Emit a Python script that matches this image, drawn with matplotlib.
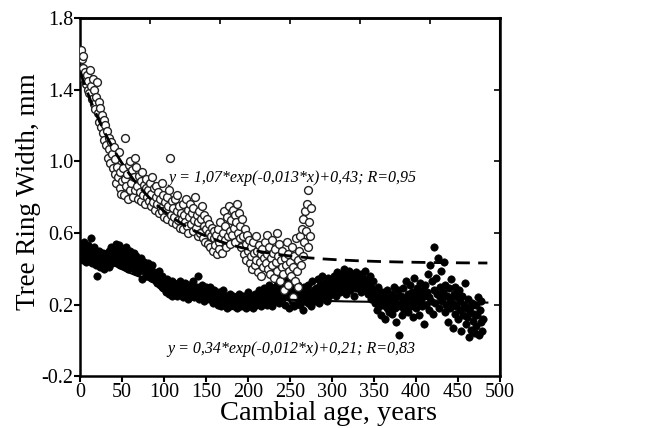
import numpy as np
import matplotlib.pyplot as plt

plt.rcParams['font.family'] = ['Liberation Serif', 'DejaVu Serif']

# open circles: ring width by cambial age (years 1..275)
open_w = [
    1.62, 1.57, 1.52, 1.59, 1.46, 1.50, 1.43, 1.48, 1.40, 1.45,
    1.38, 1.51, 1.42, 1.35, 1.46, 1.32, 1.40, 1.29, 1.36, 1.44,
    1.27, 1.33, 1.22, 1.30, 1.19, 1.26, 1.16, 1.23, 1.12, 1.20,
    1.09, 1.17, 1.02, 1.13, 1.07, 0.99, 1.11, 1.04, 0.96, 1.08,
    0.93, 1.01, 0.88, 0.97, 0.91, 1.05, 0.85, 0.94, 0.82, 0.89,
    0.96, 0.81, 0.90, 1.13, 0.86, 0.93, 0.79, 0.98, 0.84, 1.00,
    0.88, 0.95, 0.80, 0.91, 1.02, 0.84, 0.97, 0.86, 0.79, 0.92,
    0.83, 0.89, 0.78, 0.94, 0.81, 0.87, 0.76, 0.85, 0.90, 0.80,
    0.84, 0.78, 0.88, 0.75, 0.82, 0.91, 0.77, 0.85, 0.73, 0.80,
    0.86, 0.76, 0.83, 0.71, 0.79, 0.74, 0.88, 0.72, 0.81, 0.69,
    0.77, 0.73, 0.80, 0.68, 0.75, 0.84, 1.02, 0.70, 0.78, 0.66,
    0.74, 0.69, 0.79, 0.65, 0.72, 0.81, 0.67, 0.75, 0.63, 0.71,
    0.68, 0.76, 0.62, 0.70, 0.66, 0.79, 0.64, 0.73, 0.60, 0.69,
    0.76, 0.65, 0.71, 0.61, 0.74, 0.67, 0.80, 0.63, 0.70, 0.58,
    0.66, 0.72, 0.60, 0.68, 0.75, 0.57, 0.64, 0.70, 0.55, 0.62,
    0.68, 0.54, 0.60, 0.65, 0.52, 0.58, 0.63, 0.50, 0.57, 0.61,
    0.53, 0.59, 0.48, 0.62, 0.55, 0.51, 0.66, 0.57, 0.49, 0.60,
    0.72, 0.56, 0.64, 0.52, 0.69, 0.58, 0.75, 0.61, 0.54, 0.67,
    0.59, 0.73, 0.63, 0.70, 0.55, 0.66, 0.76, 0.60, 0.71, 0.57,
    0.64, 0.52, 0.68, 0.58, 0.48, 0.62, 0.54, 0.45, 0.59, 0.50,
    0.56, 0.43, 0.52, 0.47, 0.40, 0.55, 0.49, 0.42, 0.58, 0.45,
    0.50, 0.38, 0.53, 0.44, 0.48, 0.36, 0.51, 0.41, 0.46, 0.55,
    0.43, 0.59, 0.48, 0.40, 0.52, 0.37, 0.46, 0.56, 0.42, 0.49,
    0.35, 0.51, 0.44, 0.60, 0.39, 0.47, 0.54, 0.33, 0.45, 0.41,
    0.50, 0.37, 0.28, 0.46, 0.42, 0.55, 0.31, 0.48, 0.39, 0.44,
    0.36, 0.52, 0.24, 0.41, 0.47, 0.33, 0.57, 0.39, 0.45, 0.30,
    0.50, 0.58, 0.42, 0.62, 0.47, 0.68, 0.55, 0.72, 0.61, 0.76,
    0.52, 0.84, 0.66, 0.58, 0.74,
]
open_age = np.arange(1, len(open_w) + 1)

# filled circles: ring width by cambial age (years 1..480)
filled_w = [
    0.52, 0.47, 0.50, 0.45, 0.55, 0.49, 0.44, 0.51, 0.48, 0.53,
    0.46, 0.50, 0.57, 0.43, 0.48, 0.52, 0.45, 0.49, 0.42, 0.36,
    0.47, 0.44, 0.50, 0.41, 0.46, 0.43, 0.49, 0.40, 0.45, 0.48,
    0.42, 0.47, 0.44, 0.50, 0.41, 0.46, 0.52, 0.43, 0.48, 0.45,
    0.51, 0.46, 0.54, 0.44, 0.49, 0.53, 0.47, 0.42, 0.50, 0.46,
    0.44, 0.49, 0.41, 0.47, 0.52, 0.45, 0.40, 0.48, 0.43, 0.50,
    0.46, 0.41, 0.45, 0.49, 0.39, 0.44, 0.47, 0.42, 0.38, 0.45,
    0.43, 0.40, 0.46, 0.34, 0.41, 0.44, 0.38, 0.42, 0.36, 0.40,
    0.43, 0.37, 0.40, 0.35, 0.39, 0.42, 0.34, 0.38, 0.36, 0.33,
    0.37, 0.32, 0.35, 0.39, 0.31, 0.34, 0.30, 0.36, 0.29, 0.33,
    0.31, 0.27, 0.34, 0.29, 0.32, 0.26, 0.30, 0.28, 0.33, 0.25,
    0.29, 0.32, 0.27, 0.30, 0.25, 0.31, 0.28, 0.26, 0.33, 0.29,
    0.27, 0.30, 0.24, 0.28, 0.32, 0.26, 0.29, 0.23, 0.27, 0.31,
    0.28, 0.25, 0.30, 0.27, 0.33, 0.24, 0.28, 0.26, 0.30, 0.36,
    0.27, 0.23, 0.29, 0.26, 0.31, 0.25, 0.28, 0.22, 0.27, 0.30,
    0.25, 0.28, 0.23, 0.27, 0.30, 0.24, 0.26, 0.21, 0.28, 0.25,
    0.22, 0.26, 0.24, 0.20, 0.27, 0.23, 0.25, 0.19, 0.24, 0.28,
    0.23, 0.20, 0.25, 0.22, 0.18, 0.24, 0.21, 0.26, 0.19, 0.23,
    0.21, 0.25, 0.19, 0.23, 0.20, 0.24, 0.18, 0.22, 0.26, 0.20,
    0.23, 0.19, 0.22, 0.25, 0.20, 0.24, 0.21, 0.18, 0.23, 0.27,
    0.22, 0.19, 0.25, 0.21, 0.24, 0.18, 0.23, 0.26, 0.20, 0.22,
    0.25, 0.21, 0.28, 0.23, 0.19, 0.26, 0.22, 0.24, 0.29, 0.21,
    0.24, 0.27, 0.20, 0.25, 0.31, 0.22, 0.26, 0.19, 0.28, 0.23,
    0.26, 0.30, 0.22, 0.27, 0.33, 0.24, 0.21, 0.29, 0.25, 0.36,
    0.23, 0.28, 0.31, 0.20, 0.26, 0.34, 0.24, 0.29, 0.18, 0.27,
    0.30, 0.22, 0.26, 0.32, 0.19, 0.25, 0.28, 0.21, 0.31, 0.24,
    0.27, 0.20, 0.29, 0.23, 0.17, 0.26, 0.30, 0.22, 0.25, 0.28,
    0.21, 0.31, 0.24, 0.27, 0.19, 0.33, 0.23, 0.28, 0.26, 0.22,
    0.29, 0.25, 0.34, 0.21, 0.27, 0.31, 0.24, 0.36, 0.28, 0.23,
    0.32, 0.26, 0.30, 0.22, 0.35, 0.28, 0.25, 0.33, 0.29, 0.27,
    0.31, 0.36, 0.28, 0.34, 0.25, 0.38, 0.30, 0.33, 0.27, 0.35,
    0.32, 0.37, 0.29, 0.40, 0.31, 0.34, 0.26, 0.36, 0.30, 0.39,
    0.33, 0.28, 0.37, 0.31, 0.35, 0.25, 0.32, 0.38, 0.29, 0.34,
    0.36, 0.30, 0.33, 0.27, 0.37, 0.31, 0.35, 0.28, 0.39, 0.32,
    0.29, 0.34, 0.26, 0.31, 0.36, 0.23, 0.30, 0.27, 0.33, 0.25,
    0.21, 0.28, 0.17, 0.24, 0.30, 0.19, 0.26, 0.14, 0.22, 0.27,
    0.20, 0.25, 0.12, 0.23, 0.18, 0.28, 0.21, 0.16, 0.24, 0.19,
    0.26, 0.15, 0.22, 0.30, 0.18, 0.10, 0.24, 0.20, 0.28, 0.03,
    0.19, 0.25, 0.14, 0.22, 0.29, 0.17, 0.23, 0.33, 0.20, 0.26,
    0.16, 0.24, 0.31, 0.19, 0.27, 0.13, 0.22, 0.35, 0.25, 0.18,
    0.29, 0.21, 0.26, 0.14, 0.32, 0.23, 0.19, 0.28, 0.09, 0.25,
    0.31, 0.20, 0.27, 0.37, 0.17, 0.24, 0.42, 0.22, 0.33, 0.15,
    0.28, 0.52, 0.21, 0.35, 0.26, 0.46, 0.18, 0.30, 0.24, 0.39,
    0.22, 0.27, 0.44, 0.16, 0.31, 0.20, 0.25, 0.10, 0.29, 0.23,
    0.18, 0.34, 0.21, 0.07, 0.26, 0.15, 0.30, 0.19, 0.24, 0.12,
    0.28, 0.17, 0.22, 0.05, 0.25, 0.14, 0.20, 0.32, 0.09, 0.18,
    0.13, 0.23, 0.02, 0.16, 0.19, 0.06, 0.21, 0.11, 0.15, 0.04,
    0.20, 0.08, 0.14, 0.24, 0.03, 0.17, 0.10, 0.22, 0.05, 0.12,
]
filled_age = np.arange(1, len(filled_w) + 1)

# fitted curves y = a*exp(b*x)+c, as printed on the chart
fit_open = (1.07, -0.013, 0.43)
fit_filled = (0.34, -0.012, 0.21)
label_open = 'y = 1,07*exp(-0,013*x)+0,43; R=0,95'
label_filled = 'y = 0,34*exp(-0,012*x)+0,21; R=0,83'

fig = plt.figure(figsize=(6.51, 4.28), dpi=100)
ax = fig.add_axes([0.123, 0.121, 0.645, 0.837])

ax.scatter(filled_age, filled_w, s=28, c='black', edgecolors='black', linewidths=0.5, zorder=2)
ax.scatter(open_age, open_w, s=32, facecolors='white', edgecolors='#222222', linewidths=1.0, zorder=3)

xs = np.linspace(0, 485, 300)
a, b, c = fit_open
ax.plot(xs, a * np.exp(b * xs) + c, color='black', lw=2.0, ls=(0, (5, 3)), zorder=4)
a, b, c = fit_filled
ax.plot(xs, a * np.exp(b * xs) + c, color='black', lw=1.5, zorder=4)

ax.text(105, 0.905, label_open, fontsize=11.5, style='italic', va='center', zorder=5)
ax.text(104, -0.05, label_filled, fontsize=11.5, style='italic', va='center', zorder=5)

ax.set_xlim(0, 500)
ax.set_ylim(-0.2, 1.8)
ax.set_xticks(np.arange(0, 501, 50))
ax.set_yticks(np.arange(-0.2, 1.81, 0.4))
ax.set_yticklabels(['-0.2', '0.2', '0.6', '1.0', '1.4', '1.8'])
ax.tick_params(direction='out', length=4, width=1.5, labelsize=14.5, pad=1)

# top and right ticks point inward
top = ax.secondary_xaxis('top')
top.set_xticks([500 / 6 * i for i in range(1, 6)])
top.tick_params(direction='in', length=4, width=1.2, labeltop=False)
right = ax.secondary_yaxis('right')
right.set_yticks([0.2, 0.6, 1.0, 1.4])
right.tick_params(direction='in', length=4, width=1.2, labelright=False)
for sp in ax.spines.values():
    sp.set_linewidth(1.8)
top.spines['top'].set_linewidth(1.8)
right.spines['right'].set_linewidth(1.5)

fig.text(0.505, 0.034, 'Cambial age, years', fontsize=20.5, ha='center', va='center')
ax.set_ylabel('Tree Ring Width, mm', fontsize=19.5)
ax.yaxis.set_label_coords(-0.093, 0.514)

fig.savefig('out.png', dpi=100)
